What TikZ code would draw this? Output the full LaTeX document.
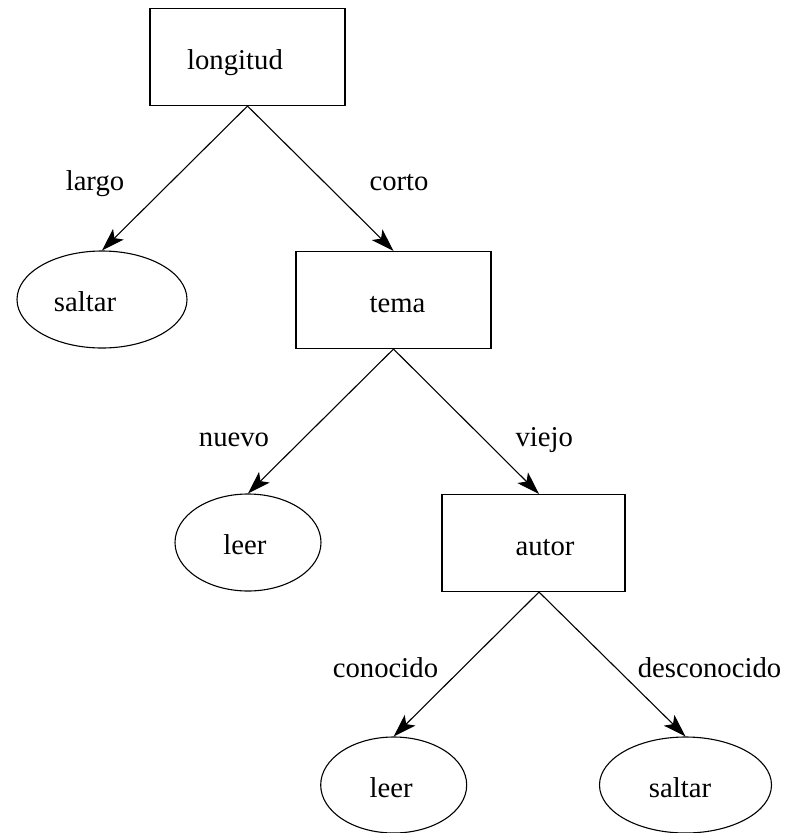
\documentclass[tikz,border=0pt]{standalone}
\usepackage{fontspec}
\setmainfont{Liberation Serif}
\usetikzlibrary{shapes.geometric,arrows.meta}
\begin{document}
\begin{tikzpicture}[x=1pt,y=-1pt,
  every node/.style={font=\fontsize{28.7}{34}\selectfont},
  boxnode/.style={draw,rectangle,line width=1.1pt,inner sep=0pt,minimum height=97pt,text height=24pt,text depth=0pt},
  ovalnode/.style={draw,ellipse,line width=1.1pt,inner sep=0pt,minimum height=97pt,text height=24pt,text depth=0pt},
  lbl/.style={anchor=base,inner sep=0pt},
  conn/.style={line width=1.1pt,-{Stealth[length=23pt,width=15pt,inset=5.5pt]}}]
\useasboundingbox (0,0) rectangle (788,833);
% decision nodes
\node[boxnode,minimum width=195pt] (longitud) at (247.5,57) {longitud\hspace*{25pt}\mbox{}};
\node[ovalnode,minimum width=170pt] (saltar1) at (102,299.5) {saltar\hspace*{34pt}\mbox{}};
\node[boxnode,minimum width=195pt] (tema) at (393.5,300) {\hspace*{8pt}tema};
\node[ovalnode,minimum width=146pt] (leer1) at (248,542.5) {leer\hspace*{6pt}\mbox{}};
\node[boxnode,minimum width=183pt] (autor) at (533.5,543) {\hspace*{23pt}autor};
\node[ovalnode,minimum width=146pt,minimum height=96pt] (leer2) at (393.7,785) {leer\hspace*{5pt}\mbox{}};
\node[ovalnode,minimum width=172pt,minimum height=96pt] (saltar2) at (685.5,785) {saltar\hspace*{11pt}\mbox{}};
% connection points on autor
\coordinate (autorN) at ([xshift=5.5pt]autor.north);
\coordinate (autorS) at ([xshift=5.5pt]autor.south);
% connectors
\draw[conn] (longitud.south) -- (saltar1.north);
\draw[conn] (longitud.south) -- (tema.north);
\draw[conn] (tema.south) -- (leer1.north);
\draw[conn] (tema.south) -- (autorN);
\draw[conn] (autorS) -- (leer2.north);
\draw[conn] (autorS) -- (saltar2.north);
% labels
\node[lbl] (llargo) at (95,190) {largo};
\node[lbl] (lcorto) at (399,190) {corto};
\node[lbl] (lnuevo) at (234,446) {nuevo};
\node[lbl] (lviejo) at (544.3,446) {viejo};
\node[lbl] (lconocido) at (385.5,677) {conocido};
\node[lbl] (ldesconocido) at (709.5,677) {desconocido};
\end{tikzpicture}
\end{document}
